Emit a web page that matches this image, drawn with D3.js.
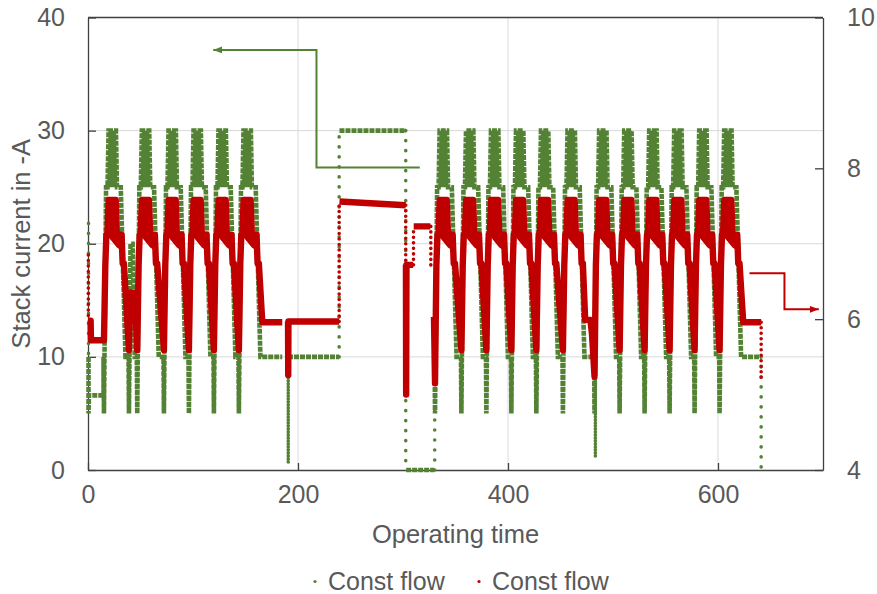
<!DOCTYPE html>
<html>
<head>
<meta charset="utf-8">
<script src="https://cdn.jsdelivr.net/npm/d3@7"></script>
<style>
    body { margin: 0; background: #fff; }
    text { font-family: "Liberation Sans", Arial, sans-serif; fill: #595959; }
</style>
</head>
<body>
<div id="chart"></div>
<script>
const width = 877,
    height = 594,
    margin = {top: 17.5, right: 54, bottom: 124, left: 88};

// ticks and names
const xTicks = [0, 200, 400, 600];
const leftTicks = [0, 10, 20, 30, 40];
const rightTicks = [4, 6, 8, 10];
const seriesNames = ["Const flow", "Const flow"];

// start (valley) time of every load cycle
const cycleStarts = [15.2, 46.9, 72.3, 96.1, 119.9, 143.7,
    330.5, 355.6, 379.4, 403.2, 427.0, 452.3, 482.4, 506.3, 530.1, 553.9, 577.7, 601.5];

// one load cycle, [time after valley, value]
const greenCycle = [[-0.4, 10], [0, 5], [0.5, 10], [1.0, 15], [1.5, 20], [2.0, 25], [3.4, 25],
    [4.4, 30], [11.4, 30], [12.4, 25], [16.0, 25], [17.5, 20], [19.0, 15], [20.5, 10]];
const redCycle = [[1.3, 6.72], [2.3, 7.12], [3.3, 7.12], [4.5, 7.58], [11.2, 7.58],
    [12.3, 7.12], [16.8, 7.12], [17.8, 6.74], [19.0, 6.74]];
const redValleys = [5.72, 5.59, 5.59, 5.59, 5.59, 5.59,
    5.15, 5.59, 5.59, 5.59, 5.59, 5.59, 5.24, 5.59, 5.59, 5.59, 5.59, 5.59];

// band the samples fill at the top of each cycle
const greenTower = [[3.0, 25], [4.4, 30], [11.4, 30], [12.8, 25]];
const redCap = [[2.4, 7.12], [4.2, 7.6], [11.5, 7.6], [12.8, 7.12], [16.8, 7.12], [17.8, 6.9], [12.3, 6.95]];

// the parts outside the cycles (null = no samples)
const greenLead = [[0.5, 10], [0.5, 5], [0.9, 6.6], [14.8, 6.6]];
const greenGap1 = [[38.6, 10], [39, 5], [39.5, 10], [40, 15], [40.5, 20], [42.5, 20], [43.5, 15], [44.5, 10], [46.5, 10]];
const greenMid = [[185, 10], null, [190.5, 10], [239.2, 10], null, [239.5, 30], [302.6, 30], null,
    [303, 0], [329.8, 0], null];
const greenGap2 = [[478.5, 10], [482, 10]];
const greenTail = [[641.1, 10]];

const redLead = [[0.3, 5.98], [2.5, 5.98], [2.8, 5.72], [14.8, 5.72]];
const redGap1 = [[39, 5.59], [40.3, 6.35], [44.5, 6.35]];
const redMid = [[166, 5.96], [185, 5.96], null, [190.5, 5.97], [190.7, 5.26], [190.9, 5.97], [239.2, 5.97], null,
    [239.5, 7.56], [302.6, 7.51], null, [302.8, 6.72], [303, 5.0], [303.3, 6.72], [309.6, 6.72], null,
    [310.2, 7.23], [326, 7.23], null, [329.5, 6.03]];
const redGap2 = [[473.5, 5.99], [478.5, 5.99], [480, 5.8]];
const redTail = [[624, 5.96], [641.1, 5.96]];

// single samples during fast jumps [time, from, to]
const greenDrops = [[190.7, 10, 0.6], [483.2, 10, 1]];
const greenJumps = [[0.5, 21.8, 10], [239.2, 10, 30], [302.6, 30, 0], [330.2, 0, 9], [641.1, 10, 0]];
const redJumps = [[0.3, 6.85, 5.98], [239.2, 5.97, 7.56], [302.6, 7.51, 6.75], [310, 6.72, 7.23],
    [326.5, 7.23, 6.7], [641.1, 5.96, 5.2]];

// arrow annotations
const greenArrow = [[316, 26.75], [217.6, 26.75], [217.6, 37.13], [119.3, 37.13]];
const redArrow = [[630, 6.61], [663.3, 6.61], [663.3, 6.13], [696, 6.13]];

const greenColor = "#548235",
    redColor = "#c00000",
    gridColor = "#d9d9d9",
    frameColor = "#404040",
    textColor = "#595959";

const greenAfter = {0: greenGap1, 5: greenMid, 11: greenGap2, 17: greenTail};
const redAfter = {0: redGap1, 5: redMid, 11: redGap2, 17: redTail};

function buildGreen() {
    const pts = [...greenLead];
    cycleStarts.forEach((s, i) => {
        greenCycle.forEach(([dt, v]) => pts.push([s + dt, v]));
        if (greenAfter[i]) pts.push(...greenAfter[i]);
    });
    return pts;
}

function buildRed() {
    const pts = [...redLead];
    cycleStarts.forEach((s, i) => {
        pts.push([s, redValleys[i]]);
        redCycle.forEach(([dt, v]) => pts.push([s + dt, v]));
        if (redAfter[i]) pts.push(...redAfter[i]);
    });
    return pts;
}

const x0 = margin.left, x1 = width - margin.right,
    y0 = height - margin.bottom, y1 = margin.top;

const x = d3.scaleLinear().domain([0, 700]).range([x0, x1]);
const yL = d3.scaleLinear().domain([0, 40]).range([y0, y1]);
const yR = d3.scaleLinear().domain([4, 10]).range([y0, y1]);

const svg = d3.select("#chart").append("svg")
    .attr("width", width)
    .attr("height", height);

// grid
svg.append("g")
    .selectAll("line")
    .data([10, 20, 30])
    .enter().append("line")
    .attr("x1", x0).attr("x2", x1)
    .attr("y1", d => yL(d)).attr("y2", d => yL(d))
    .attr("stroke", gridColor).attr("stroke-width", 1);
svg.append("g")
    .selectAll("line")
    .data(xTicks.slice(1))
    .enter().append("line")
    .attr("y1", y0).attr("y2", y1)
    .attr("x1", d => x(d)).attr("x2", d => x(d))
    .attr("stroke", gridColor).attr("stroke-width", 1);

// axes
function styleAxis(g) {
    g.attr("font-size", 25).attr("font-family", "Liberation Sans, Arial, sans-serif");
    g.selectAll("path.domain").attr("stroke", frameColor).attr("stroke-width", 1.3);
    g.selectAll(".tick line").attr("stroke", frameColor).attr("stroke-width", 1.3);
    g.selectAll(".tick text").attr("fill", textColor);
}

svg.append("g")
    .attr("transform", `translate(${x0},0)`)
    .call(d3.axisLeft(yL).tickValues(leftTicks).tickSizeInner(-8).tickSizeOuter(0).tickPadding(23))
    .call(styleAxis);

svg.append("g")
    .attr("transform", `translate(${x1},0)`)
    .call(d3.axisRight(yR).tickValues(rightTicks).tickFormat(d3.format("d"))
        .tickSizeInner(-8).tickSizeOuter(0).tickPadding(24))
    .call(styleAxis);

svg.append("g")
    .attr("transform", `translate(0,${y0})`)
    .call(d3.axisBottom(x).tickValues(xTicks).tickSizeInner(-7).tickSizeOuter(0).tickPadding(15))
    .call(styleAxis);

svg.append("line")
    .attr("x1", x0).attr("x2", x1).attr("y1", y1).attr("y2", y1)
    .attr("stroke", frameColor).attr("stroke-width", 1.3);

// series
const lineL = d3.line().defined(d => d !== null).x(d => x(d[0])).y(d => yL(d[1]));
const lineR = d3.line().defined(d => d !== null).x(d => x(d[0])).y(d => yR(d[1]));
const shapeL = d3.line().x(d => x(d[0])).y(d => yL(d[1])).curve(d3.curveLinearClosed);
const shapeR = d3.line().x(d => x(d[0])).y(d => yR(d[1])).curve(d3.curveLinearClosed);

// green towers
svg.append("g")
    .selectAll("path")
    .data(cycleStarts)
    .enter().append("path")
    .attr("d", s => shapeL(greenTower.map(([dt, v]) => [s + dt, v])))
    .attr("fill", greenColor);

svg.append("path")
    .datum(buildGreen())
    .attr("d", lineL)
    .attr("fill", "none")
    .attr("stroke", greenColor)
    .attr("stroke-width", 4.6)
    .attr("stroke-dasharray", "5 1");

function jumps(data, scale, color, gap) {
    svg.append("g")
        .selectAll("line")
        .data(data)
        .enter().append("line")
        .attr("x1", d => x(d[0])).attr("x2", d => x(d[0]))
        .attr("y1", d => scale(d[1])).attr("y2", d => scale(d[2]))
        .attr("stroke", color)
        .attr("stroke-width", 3.6)
        .attr("stroke-linecap", "round")
        .attr("stroke-dasharray", `0 ${gap}`);
}

jumps(greenDrops, yL, greenColor, 3);
jumps(greenJumps, yL, greenColor, 10);

// red caps
svg.append("g")
    .selectAll("path")
    .data(cycleStarts)
    .enter().append("path")
    .attr("d", s => shapeR(redCap.map(([dt, v]) => [s + dt, v])))
    .attr("fill", redColor);

svg.append("path")
    .datum(buildRed())
    .attr("d", lineR)
    .attr("fill", "none")
    .attr("stroke", redColor)
    .attr("stroke-width", 6.4)
    .attr("stroke-linejoin", "round");

jumps(redJumps, yR, redColor, 5.5);

// arrows
const defs = svg.append("defs");
[["arrowGreen", greenColor], ["arrowRed", redColor]].forEach(([id, color]) => {
    defs.append("marker")
        .attr("id", id)
        .attr("markerUnits", "userSpaceOnUse")
        .attr("markerWidth", 10).attr("markerHeight", 8)
        .attr("refX", 9).attr("refY", 3.5)
        .attr("orient", "auto")
        .append("path")
        .attr("d", "M0,0L9,3.5L0,7Z")
        .attr("fill", color);
});

svg.append("path")
    .datum(greenArrow)
    .attr("d", lineL)
    .attr("fill", "none")
    .attr("stroke", greenColor)
    .attr("stroke-width", 2)
    .attr("marker-end", "url(#arrowGreen)");

svg.append("path")
    .datum(redArrow)
    .attr("d", lineR)
    .attr("fill", "none")
    .attr("stroke", redColor)
    .attr("stroke-width", 2)
    .attr("marker-end", "url(#arrowRed)");

// titles
svg.append("text")
    .attr("x", (x0 + x1) / 2)
    .attr("y", 543)
    .attr("text-anchor", "middle")
    .attr("font-size", 25.5)
    .text("Operating time");

svg.append("text")
    .attr("transform", `translate(30,${(y0 + y1) / 2}) rotate(-90)`)
    .attr("text-anchor", "middle")
    .attr("font-size", 25.5)
    .text("Stack current in -A");

// legend
const legend = svg.append("g").attr("transform", "translate(315,0)");
[greenColor, redColor].forEach((color, i) => {
    const g = legend.append("g").attr("transform", `translate(${i * 164},0)`);
    g.append("circle").attr("cx", 0).attr("cy", 581.5).attr("r", 1.6).attr("fill", color);
    g.append("text").attr("x", 13).attr("y", 590).attr("font-size", 25).text(seriesNames[i]);
});
</script>
</body>
</html>
